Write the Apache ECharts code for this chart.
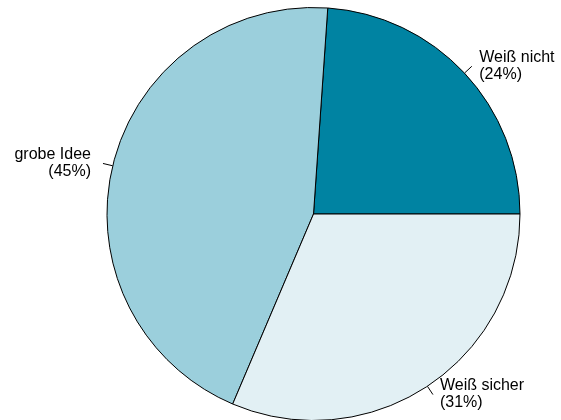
<!DOCTYPE html>
<html>
<head>
<meta charset="utf-8">
<script src="https://cdn.jsdelivr.net/npm/echarts@6/dist/echarts.min.js"></script>
<style>
html,body{margin:0;padding:0;background:#fff;}
#chart{width:561px;height:420px;}
</style>
</head>
<body>
<div id="chart"></div>
<script>
// Data (shares; labels show rounded percentages)
var categories = ['Weiß nicht', 'grobe Idee', 'Weiß sicher'];
var values = [23.9, 44.7, 31.4];

// Styles (kept separate from data)
var sliceColors = ['#0083a2', '#9bcfdc', '#e2f0f4'];
var labelShiftUp = [17, 10.5, 1];     // px the text block sits above the tick end
var labelGap = [7.5, 12, 7];           // px between tick end and text

var chart = echarts.init(document.getElementById('chart'), null, {renderer: 'canvas'});

var data = categories.map(function (name, i) {
  return {
    name: name,
    value: values[i],
    itemStyle: {color: sliceColors[i]},
    label: {
      padding: [0, 0, 2 * labelShiftUp[i], 0],
      distanceToLabelLine: labelGap[i]
    }
  };
});

chart.setOption({
  animation: false,
  backgroundColor: '#ffffff',
  series: [{
    type: 'pie',
    center: [313.5, 214],
    radius: 206.5,
    startAngle: 0,
    clockwise: false,
    avoidLabelOverlap: false,
    percentPrecision: 0,
    silent: true,
    itemStyle: {borderColor: '#000000', borderWidth: 1},
    label: {
      show: true,
      position: 'outside',
      formatter: '{b}\n({d}%)',
      color: '#000000',
      fontFamily: 'Liberation Sans, Arial, sans-serif',
      fontSize: 16,
      lineHeight: 17
    },
    labelLine: {
      show: true,
      length: 10,
      length2: 0,
      smooth: false,
      lineStyle: {color: '#000000', width: 1}
    },
    emphasis: {disabled: true},
    data: data
  }]
});
</script>
</body>
</html>
